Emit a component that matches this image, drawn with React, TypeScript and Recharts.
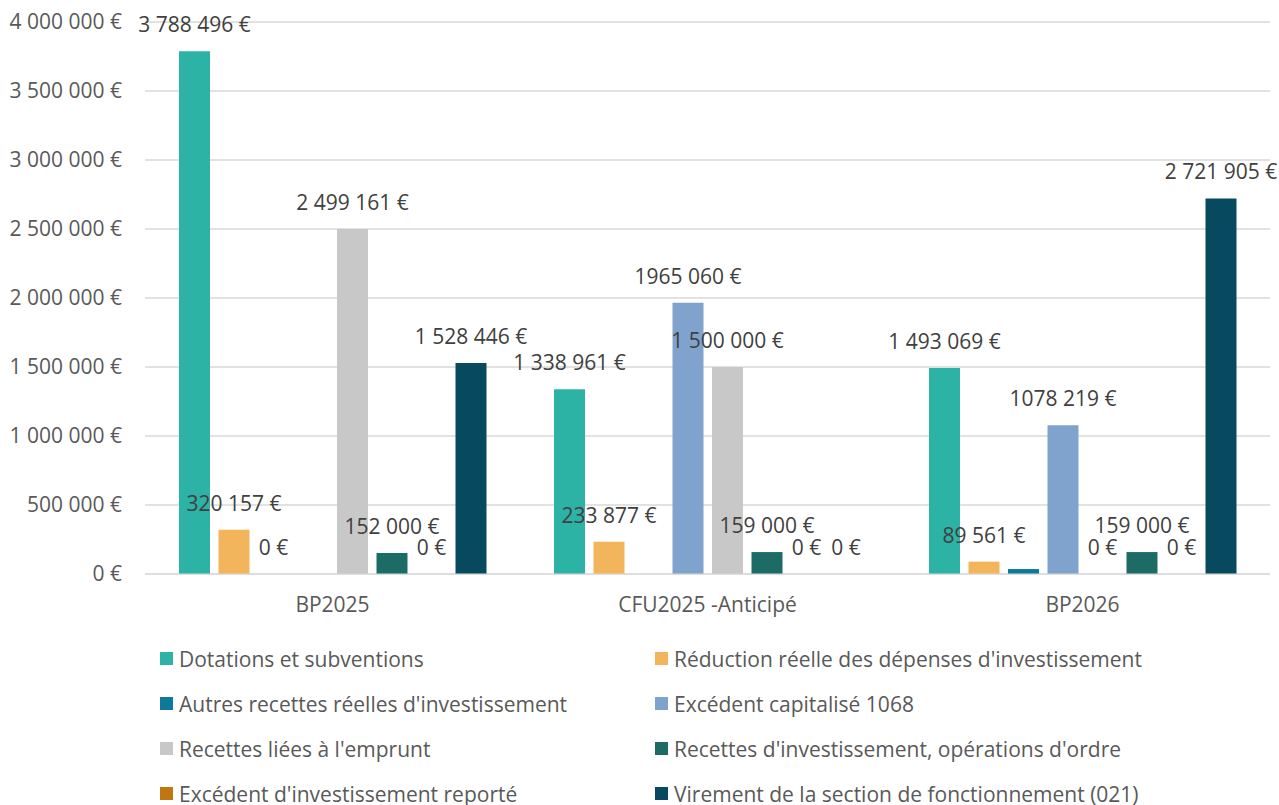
import { BarChart, Bar, XAxis, YAxis, CartesianGrid, LabelList, Rectangle } from "recharts";

const categories = ["BP2025", "CFU2025 -Anticipé", "BP2026"];

const dotations = [3788496, 1338961, 1493069];
const reduction = [320157, 233877, 89561];
const autres = [0, null, 36000];
const excedentCapitalise = [null, 1965060, 1078219];
const emprunt = [2499161, 1500000, 0];
const ordre = [152000, 159000, 159000];
const excedentReporte = [0, 0, 0];
const virement = [1528446, 0, 2721905];

// texts shown above the bars (null = no label)
const dotationsLabels = ["3 788 496 €", "1 338 961 €", "1 493 069 €"];
const reductionLabels = ["320 157 €", "233 877 €", "89 561 €"];
const autresLabels = ["0 €", null, null];
const excedentCapitaliseLabels = [null, "1965 060 €", "1078 219 €"];
const empruntLabels = ["2 499 161 €", "1 500 000 €", "0 €"];
const ordreLabels = ["152 000 €", "159 000 €", "159 000 €"];
const excedentReporteLabels = ["0 €", "0 €", "0 €"];
const virementLabels = ["1 528 446 €", "0 €", "2 721 905 €"];

const yTicks = [0, 500000, 1000000, 1500000, 2000000, 2500000, 3000000, 3500000, 4000000];

const series = [
  { key: "dotations", name: "Dotations et subventions", color: "#2DB2A6", values: dotations, labels: dotationsLabels },
  { key: "reduction", name: "Réduction réelle des dépenses d'investissement", color: "#F2B55C", values: reduction, labels: reductionLabels },
  { key: "autres", name: "Autres recettes réelles d'investissement", color: "#0E7A9B", values: autres, labels: autresLabels },
  { key: "excedentCap", name: "Excédent capitalisé 1068", color: "#7FA3CC", values: excedentCapitalise, labels: excedentCapitaliseLabels },
  { key: "emprunt", name: "Recettes liées à l'emprunt", color: "#C8C8C8", values: emprunt, labels: empruntLabels },
  { key: "ordre", name: "Recettes d'investissement, opérations d'ordre", color: "#1C6B64", values: ordre, labels: ordreLabels },
  { key: "excedentRep", name: "Excédent d'investissement reporté", color: "#C0770F", values: excedentReporte, labels: excedentReporteLabels },
  { key: "virement", name: "Virement de la section de fonctionnement (021)", color: "#074A5F", values: virement, labels: virementLabels },
];

const data = categories.map((cat, i) => {
  const row: Record<string, string | number | null> = { name: cat };
  series.forEach((s) => {
    row[s.key] = s.values[i];
    row[s.key + "_label"] = s.labels[i];
  });
  return row;
});

const FONT = "'Open Sans', sans-serif";
const FS = 21;

const fmtEuro = (v: number) =>
  v.toString().replace(/\B(?=(\d{3})+(?!\d))/g, " ") + " €";

const renderLabel = (props: any) => {
  const { x, y, width, value } = props;
  if (value == null || x == null) return null;
  return (
    <text
      x={Number(x) + Number(width) / 2}
      y={Number(y) - 19}
      textAnchor="middle"
      fill="#404040"
      fontSize={FS}
      fontFamily={FONT}
    >
      {value}
    </text>
  );
};

// zero bars get a tiny min size so their label is kept, but are not painted
const BarShape = (props: any) => {
  if (!props.value || (Array.isArray(props.value) && props.value[1] - props.value[0] === 0)) return null;
  return <Rectangle {...props} />;
};

export default function App() {
  return (
    <div
      style={{
        position: "absolute",
        left: 0,
        top: 0,
        width: 1279,
        height: 805,
        background: "#fff",
        fontFamily: FONT,
      }}
    >
      <BarChart
        width={1279}
        height={640}
        data={data}
        margin={{ top: 22, right: 9, left: 0, bottom: 16 }}
        barSize={31}
        barGap={8.5}
      >
        <CartesianGrid vertical={false} stroke="#D9D9D9" strokeWidth={1.3} />
        <XAxis
          dataKey="name"
          height={50}
          tickLine={false}
          tickSize={0}
          tickMargin={23}
          stroke="#D9D9D9"
          tick={{ fill: "#595959", fontSize: FS, fontFamily: FONT }}
        />
        <YAxis
          width={145}
          domain={[0, 4000000]}
          ticks={yTicks}
          tickFormatter={fmtEuro}
          axisLine={false}
          tickLine={false}
          tickSize={0}
          tickMargin={23}
          tick={{ fill: "#595959", fontSize: FS, fontFamily: FONT }}
        />
        {series.map((s) => (
          <Bar
            key={s.key}
            dataKey={s.key}
            name={s.name}
            fill={s.color}
            minPointSize={0.01}
            shape={BarShape}
            isAnimationActive={false}
          >
            <LabelList dataKey={s.key + "_label"} content={renderLabel} />
          </Bar>
        ))}
      </BarChart>
      <div
        style={{
          position: "absolute",
          left: 160,
          top: 636,
          display: "grid",
          gridTemplateColumns: "495px 600px",
        }}
      >
        {series.map((s) => (
          <div
            key={s.key}
            style={{ display: "flex", alignItems: "center", height: 45, color: "#595959", fontSize: FS }}
          >
            <span style={{ width: 13, height: 13, background: s.color, marginRight: 6, flexShrink: 0 }} />
            <span style={{ whiteSpace: "nowrap" }}>{s.name}</span>
          </div>
        ))}
      </div>
    </div>
  );
}
